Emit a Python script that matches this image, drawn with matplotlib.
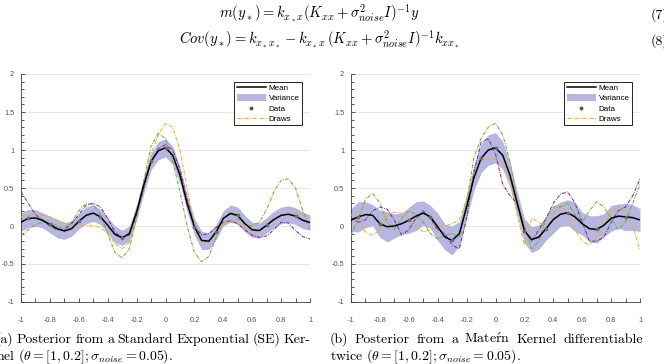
import numpy as np
import matplotlib
matplotlib.use("Agg")
import matplotlib.pyplot as plt
from matplotlib.lines import Line2D
from matplotlib.patches import Patch
from matplotlib.ticker import MultipleLocator

plt.rcParams["mathtext.fontset"] = "cm"
plt.rcParams["axes.unicode_minus"] = False

W, H = 664, 364

# x grid shared by both panels
xs = np.round(np.arange(-1.0, 1.0001, 0.05), 2)

# (a) SE kernel
se_mean = [0.05, 0.10, 0.105, 0.075, 0.02, -0.035, -0.065, -0.035, 0.06, 0.14, 0.17,
           0.12, 0.01, -0.11, -0.155, -0.10, 0.185, 0.54, 0.85, 0.99, 1.03,
           0.93, 0.67, 0.295, -0.01, -0.19, -0.20, -0.08, 0.10, 0.165, 0.14,
           0.03, -0.05, -0.06, 0.01, 0.085, 0.14, 0.155, 0.13, 0.075, 0.045]
se_band = [0.12, 0.12, 0.11, 0.10, 0.11, 0.12, 0.11, 0.10, 0.10, 0.11, 0.11,
           0.10, 0.10, 0.11, 0.10, 0.10, 0.10, 0.11, 0.11, 0.12, 0.12,
           0.12, 0.11, 0.11, 0.11, 0.12, 0.11, 0.10, 0.10, 0.11, 0.11,
           0.11, 0.10, 0.10, 0.10, 0.11, 0.11, 0.11, 0.11, 0.11, 0.10]
se_purple = [0.45, 0.30, 0.15, 0.07, 0.0, -0.05, -0.05, 0.03, 0.15, 0.27, 0.30,
             0.25, 0.10, -0.08, -0.15, -0.12, 0.15, 0.50, 0.85, 1.02, 1.07,
             1.00, 0.75, 0.35, 0.0, -0.12, -0.10, -0.02, 0.05, 0.07, 0.03,
             -0.05, -0.12, -0.15, -0.13, -0.05, 0.05, 0.04, -0.06, -0.14, -0.17]
se_green = [-0.12, -0.05, 0.02, 0.05, 0.04, 0.0, -0.03, 0.05, 0.20, 0.30, 0.28,
            0.15, -0.10, -0.35, -0.42, -0.30, 0.10, 0.60, 1.05, 1.22, 1.15,
            0.85, 0.45, 0.0, -0.35, -0.47, -0.40, -0.15, 0.10, 0.18, 0.10,
            0.02, 0.0, 0.05, 0.22, 0.45, 0.60, 0.62, 0.50, 0.20, -0.05]
se_orange = [0.12, 0.14, 0.15, 0.14, 0.12, 0.08, 0.04, 0.02, 0.02, 0.01, 0.0,
             -0.02, -0.10, -0.23, -0.30, -0.22, 0.10, 0.55, 0.95, 1.20, 1.35,
             1.30, 1.00, 0.50, 0.0, -0.22, -0.20, -0.08, 0.03, 0.05, 0.03,
             -0.02, -0.07, -0.07, 0.0, 0.08, 0.13, 0.16, 0.17, 0.15, 0.10]

# (b) Matern kernel
mt_mean = [0.08, 0.12, 0.15, 0.14, 0.03, -0.01, 0.0, 0.03, 0.075, 0.13, 0.17,
           0.12, -0.01, -0.145, -0.19, -0.10, 0.25, 0.63, 0.89, 1.0, 1.03,
           0.93, 0.67, 0.30, -0.06, -0.18, -0.145, -0.035, 0.085, 0.155, 0.175,
           0.12, 0.03, -0.035, -0.045, 0.01, 0.10, 0.13, 0.12, 0.11, 0.08]
mt_band = [0.15, 0.20, 0.17, 0.14, 0.18, 0.20, 0.16, 0.14, 0.17, 0.19, 0.16,
           0.15, 0.18, 0.17, 0.19, 0.16, 0.15, 0.17, 0.19, 0.20, 0.20,
           0.18, 0.16, 0.15, 0.16, 0.17, 0.16, 0.15, 0.18, 0.16, 0.17,
           0.19, 0.15, 0.17, 0.18, 0.15, 0.17, 0.16, 0.18, 0.17, 0.15]
mt_green = [-0.13, 0.10, 0.35, 0.43, 0.30, 0.05, -0.05, 0.10, 0.20, 0.15, 0.05,
            -0.10, -0.17, -0.12, -0.10, -0.15, 0.30, 0.90, 1.15, 1.30, 1.35,
            1.20, 0.85, 0.35, 0.0, -0.30, -0.20, 0.10, 0.25, 0.25, 0.30,
            0.15, 0.05, 0.20, 0.32, 0.25, 0.10, -0.05, 0.05, 0.30, 0.55]
mt_purple = [0.10, 0.05, 0.08, 0.20, 0.25, 0.22, 0.08, -0.12, -0.05, 0.10, 0.20,
             0.10, -0.05, -0.10, -0.25, -0.30, 0.10, 0.70, 1.10, 1.15, 0.95,
             0.55, 0.40, 0.30, -0.05, -0.20, -0.05, 0.10, 0.30, 0.42, 0.45,
             0.30, 0.05, -0.20, -0.20, -0.15, 0.05, 0.20, 0.25, 0.40, 0.62]
mt_orange = [0.15, 0.10, -0.08, -0.12, -0.05, 0.15, 0.18, 0.17, 0.12, 0.0, -0.08,
             -0.05, -0.02, 0.0, 0.03, 0.08, 0.35, 0.70, 0.87, 0.88, 0.88,
             0.85, 0.60, 0.15, -0.25, 0.10, 0.05, -0.05, 0.15, 0.28, 0.15,
             -0.05, -0.20, -0.25, -0.15, 0.0, 0.20, 0.25, 0.20, 0.0, -0.32]

# training points (barely visible grey dots)
data_x = [-0.95, -0.8, -0.6, -0.45, -0.3, -0.1, 0.0, 0.2, 0.35, 0.5, 0.7, 0.9]
se_data_y = [0.10, 0.02, 0.06, 0.12, -0.155, 0.85, 1.03, -0.01, -0.08, 0.14, 0.01, 0.13]
mt_data_y = [0.12, 0.03, 0.075, 0.12, -0.19, 0.89, 1.03, -0.06, -0.035, 0.175, -0.045, 0.12]

x_ticks = [-1, -0.8, -0.6, -0.4, -0.2, 0, 0.2, 0.4, 0.6, 0.8, 1]
y_ticks = [-1, -0.5, 0, 0.5, 1, 1.5, 2]

BAND = "#b6b6e0"
ORANGE = "#EDB120"
GREEN = "#77AC30"
PURPLE = "#7E2F8E"
AXCOL = "#3a3a3a"
DASHDOT = (0, (3.5, 1.2, 0.8, 1.2))


def draw_panel(ax, mean, band, draws, data_y):
    mean = np.asarray(mean)
    band = np.asarray(band)
    ax.fill_between(xs, mean - band, mean + band, color=BAND, lw=0, zorder=2)
    for ys, col in draws:
        ax.plot(xs, ys, color=col, lw=0.75, ls=DASHDOT, zorder=3)
    ax.plot(xs, mean, color="black", lw=1.1, zorder=4)
    ax.plot(data_x, data_y, ls="none", marker="o", ms=1.6, color="#6a6a6a", zorder=5)

    ax.set_xlim(-1, 1)
    ax.set_ylim(-1, 2)
    ax.set_xticks(x_ticks)
    ax.set_xticklabels([f"{v:g}" for v in x_ticks])
    ax.set_yticks(y_ticks)
    ax.set_yticklabels([f"{v:g}" for v in y_ticks])
    ax.xaxis.set_minor_locator(MultipleLocator(0.1))
    ax.yaxis.set_minor_locator(MultipleLocator(0.1))
    ax.tick_params(which="both", direction="in", color=AXCOL, width=0.6,
                   labelsize=5.3, labelcolor="#555555", labelfontfamily="Liberation Sans")
    ax.tick_params(axis="x", which="major", length=3, pad=11)
    ax.tick_params(axis="x", which="minor", length=3)
    ax.tick_params(axis="y", which="major", length=3, pad=5)
    ax.tick_params(axis="y", which="minor", length=1.8)
    ax.grid(axis="y", which="major", color="#e8e8e8", lw=0.8, zorder=0)
    ax.set_axisbelow(True)
    for s in ("top", "right"):
        ax.spines[s].set_visible(False)
    for s in ("left", "bottom"):
        ax.spines[s].set_color(AXCOL)
        ax.spines[s].set_linewidth(0.6)

    handles = [
        Line2D([], [], color="black", lw=1.1),
        Patch(facecolor=BAND, edgecolor="none"),
        Line2D([], [], ls="none", marker="o", ms=1.8, color="#555555"),
        Line2D([], [], color=ORANGE, lw=0.8, ls=DASHDOT),
    ]
    leg = ax.legend(handles, ["Mean", "Variance", "Data", "Draws"],
                    loc="upper right", bbox_to_anchor=(0.973, 0.966),
                    borderaxespad=0, handlelength=3.6,
                    handleheight=0.8, handletextpad=0.4, labelspacing=0.3,
                    borderpad=0.3, fancybox=False, framealpha=1,
                    prop={"family": "Liberation Sans", "size": 5.8})
    leg.get_frame().set_edgecolor("#222222")
    leg.get_frame().set_linewidth(0.7)


fig = plt.figure(figsize=(W / 100, H / 100), dpi=100)
axw = 289 / W
axh = 228 / H
axb = 1 - 302 / H
ax1 = fig.add_axes([21 / W, axb, axw, axh])
ax2 = fig.add_axes([351 / W, axb, axw, axh])

draw_panel(ax1, se_mean, se_band,
           [(se_orange, ORANGE), (se_green, GREEN), (se_purple, PURPLE)], se_data_y)
draw_panel(ax2, mt_mean, mt_band,
           [(mt_orange, ORANGE), (mt_green, GREEN), (mt_purple, PURPLE)], mt_data_y)


def ptext(x, y, s, **kw):
    return fig.text(x / W, 1 - y / H, s, **kw)


cap = dict(family=["cmr10", "DejaVu Serif"], fontsize=10.0, va="baseline")
eq = dict(fontsize=10.5, va="baseline", ha="center")

# equations
ptext(319, 18, r"$m(y_*) = k_{x_*x}(K_{xx} + \sigma^2_{noise}I)^{-1}y$", **eq)
ptext(319, 44, r"$Cov(y_*) = k_{x_*x_*} - k_{x_*x}\,(K_{xx} + \sigma^2_{noise}I)^{-1}k_{xx_*}$",
      **eq)
ptext(651, 19, "(7)", ha="left", **cap)
ptext(651, 45, "(8)", ha="left", **cap)


def justified(x0, x1, y, words):
    fig.canvas.draw()
    r = fig.canvas.get_renderer()
    arts = [ptext(x0, y, w, ha="left", **cap) for w in words]
    widths = [a.get_window_extent(r).width for a in arts]
    gap = (x1 - x0 - sum(widths)) / (len(words) - 1)
    pos = x0
    for a, w in zip(arts, widths):
        a.set_x(pos / W)
        pos += w + gap


justified(-4, 311, 343,
          "(a) Posterior from a Standard Exponential (SE) Ker-".split())
ptext(-4, 360, r"nel ($\theta = [1, 0.2]; \sigma_{noise} = 0.05$).", ha="left", **cap)
justified(330, 643, 343,
          ["(b)", "Posterior", "from", "a", r"Mate$\acute{\mathrm{r}}$n", "Kernel",
           "differentiable"])
ptext(330, 360, r"twice ($\theta = [1, 0.2]; \sigma_{noise} = 0.05$).", ha="left", **cap)

fig.savefig("out.png", dpi=100)
